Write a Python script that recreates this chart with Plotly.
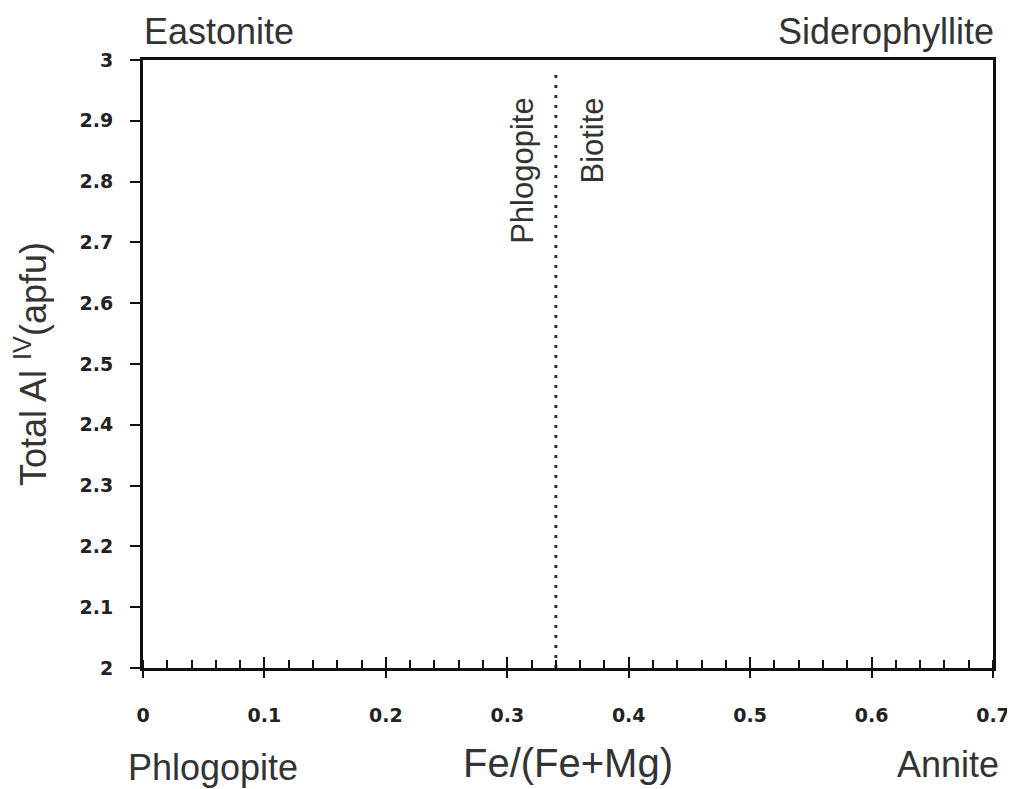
import plotly.graph_objects as go

# ---- data ----
x_range = [0, 0.7]
y_range = [2, 3]
x_ticks = [0, 0.1, 0.2, 0.3, 0.4, 0.5, 0.6, 0.7]
x_tick_labels = ["0", "0.1", "0.2", "0.3", "0.4", "0.5", "0.6", "0.7"]
y_ticks = [2, 2.1, 2.2, 2.3, 2.4, 2.5, 2.6, 2.7, 2.8, 2.9, 3]
y_tick_labels = ["2", "2.1", "2.2", "2.3", "2.4", "2.5", "2.6", "2.7", "2.8", "2.9", "3"]
boundary_x = [0.34, 0.34]
boundary_y = [2.0, 2.98]
field_labels = ["Phlogopite", "Biotite"]
field_label_x = [0.313, 0.370]
field_label_y = [2.942, 2.942]
corner_labels = ["Eastonite", "Siderophyllite", "Phlogopite", "Annite"]

FONT = "Liberation Sans, Arial, sans-serif"
TICKFONT = dict(family="DejaVu Sans, sans-serif", size=19, color="#222", weight=700)

# page body has an 8px margin; figure is sized to fit the 1015x789 window
fig = go.Figure()
fig.add_trace(go.Scatter(
    x=boundary_x, y=boundary_y, mode="lines",
    line=dict(color="#333", width=3, dash="3px,7px"),
    showlegend=False, hoverinfo="skip",
))
# invisible trace for the secondary (inside major tick) axis
fig.add_trace(go.Scatter(x=x_range, y=y_range, xaxis="x2", mode="markers",
                         marker=dict(opacity=0), showlegend=False, hoverinfo="skip"))

# field labels (rotated)
for t, xx, yy in zip(field_labels, field_label_x, field_label_y):
    fig.add_annotation(x=xx, y=yy, text=t, textangle=-90, showarrow=False,
                       xanchor="center", yanchor="top",
                       font=dict(family=FONT, size=31, color="#333"))

# corner end-member labels
corner_specs = [
    dict(x=0, y=1, xanchor="left", xshift=-1, yshift=29),
    dict(x=1, y=1, xanchor="right", xshift=3, yshift=29),
    dict(x=0, y=0, xanchor="left", xshift=-17, yshift=-99),
    dict(x=1, y=0, xanchor="right", xshift=8, yshift=-96),
]
for t, s in zip(corner_labels, corner_specs):
    fig.add_annotation(text=t, xref="paper", yref="paper", showarrow=False,
                       yanchor="middle", font=dict(family=FONT, size=36, color="#333"), **s)

fig.update_layout(
    width=1007, height=781,
    margin=dict(l=135, r=22, t=52, b=121),
    paper_bgcolor="white", plot_bgcolor="white",
    xaxis=dict(
        range=x_range, tickvals=x_ticks, ticktext=x_tick_labels,
        showgrid=False, zeroline=False,
        showline=True, linecolor="#111", linewidth=3, mirror=True,
        ticks="outside", ticklen=7, tickwidth=2, tickcolor="#111",
        ticklabelstandoff=21,
        minor=dict(ticks="inside", dtick=0.02, tick0=0, ticklen=8, tickwidth=2,
                   tickcolor="#111", showgrid=False),
        tickfont=TICKFONT,
        title=dict(text="Fe/(Fe+Mg)", font=dict(family=FONT, size=40, color="#333"),
                   standoff=25),
        automargin=False,
    ),
    xaxis2=dict(
        range=x_range, overlaying="x", matches="x", side="bottom",
        tickvals=x_ticks, showticklabels=False, showgrid=False, zeroline=False,
        showline=False, ticks="inside", ticklen=11, tickwidth=2, tickcolor="#111",
    ),
    yaxis=dict(
        range=y_range, tickvals=y_ticks, ticktext=y_tick_labels,
        showgrid=False, zeroline=False,
        showline=True, linecolor="#111", linewidth=3, mirror=True,
        ticks="outside", ticklen=10, tickwidth=2, tickcolor="#111",
        ticklabelstandoff=13,
        tickfont=TICKFONT,
        title=dict(text="Total Al <sup>IV</sup>(apfu)",
                   font=dict(family=FONT, size=36, color="#333"), standoff=22),
        automargin=False,
    ),
)

fig.write_html("out.html")
